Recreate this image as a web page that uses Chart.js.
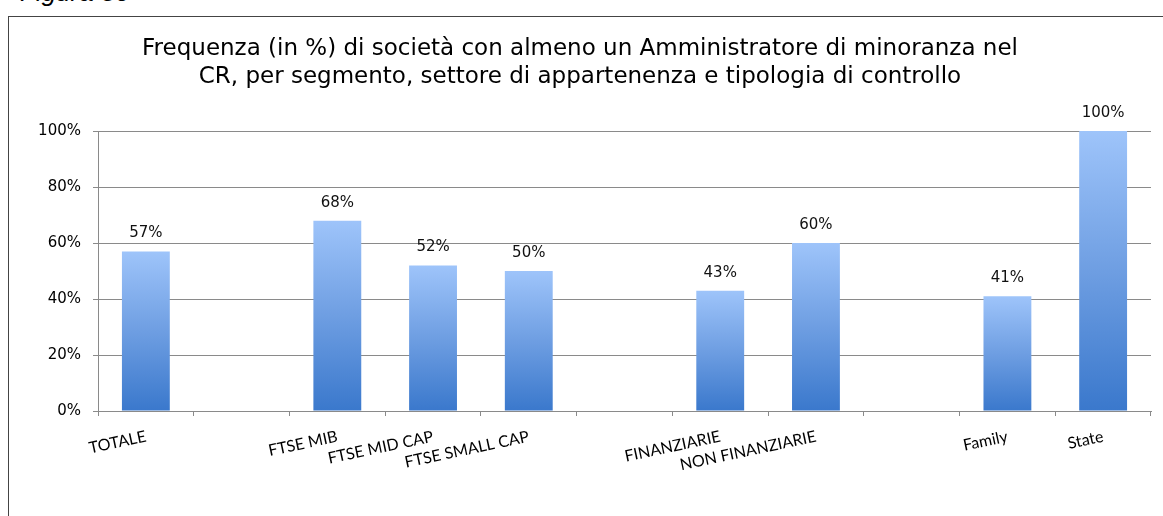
<!DOCTYPE html>
<html lang="it">
<head>
    <meta charset="UTF-8">
    <title>Frequenza amministratori di minoranza</title>
    <script src="https://cdn.jsdelivr.net/npm/chart.js"></script>
    <style>
        body { margin: 0; background: #fff; overflow: hidden; width: 1163px; height: 516px; position: relative; }
        .fig { position: absolute; left: 20px; top: -23px; font: italic 26px/30px "Liberation Sans", Arial, sans-serif; color: #000; }
        .box { position: absolute; left: 8px; top: 16px; width: 1200px; height: 600px; border: 1px solid #444; }
        .wrap { position: absolute; left: 9px; top: 17px; width: 1154px; height: 499px; }
    </style>
</head>
<body>
    <div class="fig">Figura 30</div>
    <div class="box"></div>
    <div class="wrap"><canvas id="chart"></canvas></div>

    <script>
        // categorie (le vuote fanno da spazio tra i gruppi)
        const categories = ['TOTALE', '', 'FTSE MIB', 'FTSE MID CAP', 'FTSE SMALL CAP', '',
            'FINANZIARIE', 'NON FINANZIARIE', '', 'Family', 'State'];
        const values = [57, null, 68, 52, 50, null, 43, 60, null, 41, 100];
        const yTicks = [0, 20, 40, 60, 80, 100];

        const titleLines = [
            'Frequenza (in %) di società con almeno un Amministratore di minoranza nel',
            'CR, per segmento, settore di appartenenza e tipologia di controllo'
        ];

        const gridColor = '#8a8a8a';

        // gradiente per ogni barra, dall'alto (chiaro) alla base (scuro)
        function barGradient(context) {
            const chart = context.chart;
            const v = context.raw;
            if (!chart.chartArea || v == null) return '#6b9be0';
            const y = chart.scales.y;
            const top = y.getPixelForValue(v);
            const base = y.getPixelForValue(0);
            const g = chart.ctx.createLinearGradient(0, top, 0, base);
            g.addColorStop(0, '#9ec4fa');
            g.addColorStop(0.5, '#6e9ee2');
            g.addColorStop(1, '#3a78cc');
            return g;
        }

        // etichette dei valori sopra le barre
        const valueLabels = {
            id: 'valueLabels',
            afterDatasetsDraw(chart) {
                const ctx = chart.ctx;
                const meta = chart.getDatasetMeta(0);
                ctx.save();
                ctx.font = '15px "DejaVu Sans"';
                ctx.fillStyle = '#111';
                ctx.textAlign = 'center';
                ctx.textBaseline = 'alphabetic';
                meta.data.forEach((bar, i) => {
                    if (values[i] == null) return;
                    ctx.fillText(values[i] + '%', bar.x, bar.y - 14);
                });
                ctx.restore();
            }
        };

        new Chart(document.getElementById('chart'), {
            type: 'bar',
            data: {
                labels: categories,
                datasets: [{
                    data: values,
                    backgroundColor: barGradient,
                    borderWidth: 0,
                    barPercentage: 0.5,
                    categoryPercentage: 1
                }]
            },
            options: {
                responsive: true,
                maintainAspectRatio: false,
                animation: false,
                layout: { padding: { left: 0, right: 12, top: 0, bottom: 0 } },
                plugins: {
                    legend: { display: false },
                    tooltip: { enabled: false },
                    title: {
                        display: true,
                        text: titleLines,
                        color: '#000',
                        font: { family: 'DejaVu Sans', size: 23, weight: 'normal', lineHeight: 1.22 },
                        padding: { top: 18, bottom: 40 }
                    }
                },
                scales: {
                    x: {
                        grid: {
                            display: true,
                            drawOnChartArea: false,
                            drawTicks: true,
                            tickLength: 5,
                            offset: true,
                            color: gridColor
                        },
                        border: { color: gridColor },
                        ticks: {
                            autoSkip: false,
                            minRotation: 12,
                            maxRotation: 12,
                            padding: 11,
                            color: '#000',
                            font: { family: 'Lato', size: 16 }
                        },
                        afterFit(s) { s.height = 105; }
                    },
                    y: {
                        min: 0,
                        max: 100,
                        afterBuildTicks(s) { s.ticks = yTicks.map(v => ({ value: v })); },
                        grid: { color: gridColor, tickLength: 5 },
                        border: { color: gridColor },
                        ticks: {
                            padding: 12,
                            color: '#000',
                            font: { family: 'DejaVu Sans', size: 15 },
                            callback: v => v + '%'
                        },
                        afterFit(s) { s.width = 89; }
                    }
                }
            },
            plugins: [valueLabels]
        });
    </script>
</body>
</html>
